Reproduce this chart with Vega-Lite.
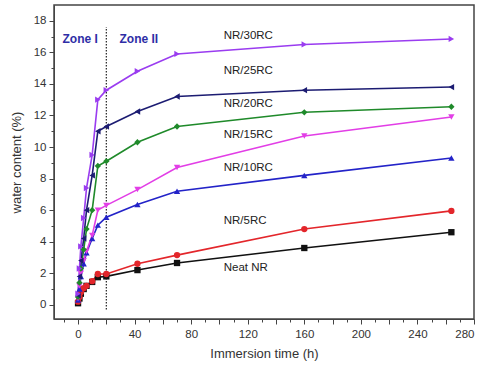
{
  "$schema": "https://vega.github.io/schema/vega-lite/v6.json",
  "width": 420,
  "height": 314,
  "autosize": "none",
  "padding": {"left": 54, "top": 5, "right": 26, "bottom": 59},
  "background": "white",
  "config": {
    "view": {"stroke": "#444", "strokeWidth": 1.5},
    "font": "Liberation Sans",
    "axis": {"grid": false, "labelFont": "Liberation Sans", "titleFont": "Liberation Sans", "labelColor": "#333", "titleColor": "#333", "domainColor": "#444", "tickColor": "#444", "labelFontSize": 11.5, "titleFontSize": 13, "titleFontWeight": "normal"}
  },
  "datasets": {
    "series": [
      {"s": "Neat NR", "t": 0, "w": 0.1}, {"s": "Neat NR", "t": 1, "w": 0.4}, {"s": "Neat NR", "t": 2, "w": 0.7}, {"s": "Neat NR", "t": 4, "w": 1.0}, {"s": "Neat NR", "t": 6, "w": 1.2}, {"s": "Neat NR", "t": 10, "w": 1.45}, {"s": "Neat NR", "t": 14, "w": 1.75}, {"s": "Neat NR", "t": 20, "w": 1.8}, {"s": "Neat NR", "t": 42, "w": 2.2}, {"s": "Neat NR", "t": 70, "w": 2.65}, {"s": "Neat NR", "t": 160, "w": 3.6}, {"s": "Neat NR", "t": 264, "w": 4.6},
      {"s": "NR/5RC", "t": 0, "w": 0.2}, {"s": "NR/5RC", "t": 1, "w": 0.5}, {"s": "NR/5RC", "t": 2, "w": 0.8}, {"s": "NR/5RC", "t": 4, "w": 1.05}, {"s": "NR/5RC", "t": 6, "w": 1.2}, {"s": "NR/5RC", "t": 10, "w": 1.5}, {"s": "NR/5RC", "t": 14, "w": 1.95}, {"s": "NR/5RC", "t": 20, "w": 1.95}, {"s": "NR/5RC", "t": 42, "w": 2.6}, {"s": "NR/5RC", "t": 70, "w": 3.15}, {"s": "NR/5RC", "t": 160, "w": 4.8}, {"s": "NR/5RC", "t": 264, "w": 5.95},
      {"s": "NR/10RC", "t": 0, "w": 0.3}, {"s": "NR/10RC", "t": 1, "w": 1.0}, {"s": "NR/10RC", "t": 2, "w": 1.8}, {"s": "NR/10RC", "t": 4, "w": 2.6}, {"s": "NR/10RC", "t": 6, "w": 3.3}, {"s": "NR/10RC", "t": 10, "w": 4.2}, {"s": "NR/10RC", "t": 14, "w": 5.05}, {"s": "NR/10RC", "t": 20, "w": 5.55}, {"s": "NR/10RC", "t": 42, "w": 6.35}, {"s": "NR/10RC", "t": 70, "w": 7.2}, {"s": "NR/10RC", "t": 160, "w": 8.2}, {"s": "NR/10RC", "t": 264, "w": 9.3},
      {"s": "NR/15RC", "t": 0, "w": 0.4}, {"s": "NR/15RC", "t": 1, "w": 1.2}, {"s": "NR/15RC", "t": 2, "w": 2.0}, {"s": "NR/15RC", "t": 4, "w": 2.8}, {"s": "NR/15RC", "t": 6, "w": 3.4}, {"s": "NR/15RC", "t": 10, "w": 4.4}, {"s": "NR/15RC", "t": 14, "w": 6.0}, {"s": "NR/15RC", "t": 20, "w": 6.3}, {"s": "NR/15RC", "t": 42, "w": 7.3}, {"s": "NR/15RC", "t": 70, "w": 8.7}, {"s": "NR/15RC", "t": 160, "w": 10.7}, {"s": "NR/15RC", "t": 264, "w": 11.9},
      {"s": "NR/20RC", "t": 0, "w": 0.5}, {"s": "NR/20RC", "t": 1, "w": 1.4}, {"s": "NR/20RC", "t": 2, "w": 2.3}, {"s": "NR/20RC", "t": 4, "w": 3.5}, {"s": "NR/20RC", "t": 6, "w": 4.8}, {"s": "NR/20RC", "t": 10, "w": 6.0}, {"s": "NR/20RC", "t": 14, "w": 8.8}, {"s": "NR/20RC", "t": 20, "w": 9.1}, {"s": "NR/20RC", "t": 42, "w": 10.3}, {"s": "NR/20RC", "t": 70, "w": 11.3}, {"s": "NR/20RC", "t": 160, "w": 12.2}, {"s": "NR/20RC", "t": 264, "w": 12.55},
      {"s": "NR/25RC", "t": 0, "w": 0.6}, {"s": "NR/25RC", "t": 1, "w": 1.8}, {"s": "NR/25RC", "t": 2, "w": 2.8}, {"s": "NR/25RC", "t": 4, "w": 4.2}, {"s": "NR/25RC", "t": 6, "w": 6.0}, {"s": "NR/25RC", "t": 10, "w": 8.2}, {"s": "NR/25RC", "t": 14, "w": 11.0}, {"s": "NR/25RC", "t": 20, "w": 11.3}, {"s": "NR/25RC", "t": 42, "w": 12.25}, {"s": "NR/25RC", "t": 70, "w": 13.2}, {"s": "NR/25RC", "t": 160, "w": 13.6}, {"s": "NR/25RC", "t": 264, "w": 13.8},
      {"s": "NR/30RC", "t": 0, "w": 0.7}, {"s": "NR/30RC", "t": 1, "w": 2.3}, {"s": "NR/30RC", "t": 2, "w": 3.7}, {"s": "NR/30RC", "t": 4, "w": 5.5}, {"s": "NR/30RC", "t": 6, "w": 7.4}, {"s": "NR/30RC", "t": 10, "w": 9.5}, {"s": "NR/30RC", "t": 14, "w": 13.0}, {"s": "NR/30RC", "t": 20, "w": 13.6}, {"s": "NR/30RC", "t": 42, "w": 14.8}, {"s": "NR/30RC", "t": 70, "w": 15.9}, {"s": "NR/30RC", "t": 160, "w": 16.5}, {"s": "NR/30RC", "t": 264, "w": 16.85}
    ],
    "labels": [
      {"label": "NR/30RC", "t": 103, "w": 17.05},
      {"label": "NR/25RC", "t": 103, "w": 14.8},
      {"label": "NR/20RC", "t": 103, "w": 12.75},
      {"label": "NR/15RC", "t": 103, "w": 10.75},
      {"label": "NR/10RC", "t": 103, "w": 8.65},
      {"label": "NR/5RC", "t": 103, "w": 5.3},
      {"label": "Neat NR", "t": 103, "w": 2.35}
    ],
    "zones": [
      {"label": "Zone I", "t": 1.5, "w": 16.85},
      {"label": "Zone II", "t": 43, "w": 16.85}
    ]
  },
  "resolve": {"axis": {"x": "independent", "y": "independent"}},
  "layer": [
    {
      "data": {"values": [{"t": 20, "y1": -0.3, "y2": 17.6}]},
      "mark": {"type": "rule", "strokeDash": [1.5, 1.5], "color": "#222", "strokeWidth": 1.2},
      "encoding": {
        "x": {"field": "t", "type": "quantitative", "scale": {"domain": [-17, 280], "nice": false, "zero": false}, "axis": {"orient": "bottom", "values": [-10, 10, 30, 50, 70, 90, 110, 130, 150, 170, 190, 210, 230, 250, 270], "labels": false, "tickSize": 3, "domain": false, "title": null}},
        "y": {"field": "y1", "type": "quantitative", "scale": {"domain": [-0.9, 19], "nice": false, "zero": false}, "axis": {"orient": "left", "values": [-1, 1, 3, 5, 7, 9, 11, 13, 15, 17], "labels": false, "tickSize": 3, "domain": false, "title": null}},
        "y2": {"field": "y2"}
      }
    },
    {
      "data": {"name": "series"},
      "mark": {"type": "line", "strokeWidth": 1.6},
      "encoding": {
        "x": {"field": "t", "type": "quantitative", "axis": {"orient": "bottom", "values": [0, 20, 40, 60, 80, 100, 120, 140, 160, 180, 200, 220, 240, 260, 280], "tickSize": 5, "labelPadding": 4, "title": "Immersion time (h)", "titlePadding": 8}},
        "y": {"field": "w", "type": "quantitative", "axis": {"orient": "left", "values": [0, 2, 4, 6, 8, 10, 12, 14, 16, 18], "tickSize": 5, "labelPadding": 3, "title": "water content (%)", "titlePadding": 10}},
        "color": {"field": "s", "type": "nominal", "legend": null, "scale": {"domain": ["Neat NR", "NR/5RC", "NR/10RC", "NR/15RC", "NR/20RC", "NR/25RC", "NR/30RC"], "range": ["#111111", "#e3262b", "#2323c8", "#e23ee6", "#1f8a2a", "#1c1c72", "#9a3cf0"]}},
        "detail": {"field": "s"}
      }
    },
    {
      "data": {"name": "series"},
      "mark": {"type": "point", "filled": true, "opacity": 1, "size": 40},
      "encoding": {
        "x": {"field": "t", "type": "quantitative", "axis": null},
        "y": {"field": "w", "type": "quantitative", "axis": null},
        "color": {"field": "s", "type": "nominal", "legend": null},
        "shape": {"field": "s", "type": "nominal", "legend": null, "scale": {"domain": ["Neat NR", "NR/5RC", "NR/10RC", "NR/15RC", "NR/20RC", "NR/25RC", "NR/30RC"], "range": ["square", "circle", "triangle-up", "triangle-down", "diamond", "triangle-left", "triangle-right"]}}
      }
    },
    {
      "data": {"name": "labels"},
      "mark": {"type": "text", "align": "left", "baseline": "middle", "fontSize": 11.5, "color": "#222", "font": "Liberation Sans"},
      "encoding": {
        "x": {"field": "t", "type": "quantitative", "axis": null},
        "y": {"field": "w", "type": "quantitative", "axis": null},
        "text": {"field": "label"}
      }
    },
    {
      "data": {"name": "zones"},
      "mark": {"type": "text", "align": "center", "baseline": "middle", "fontSize": 12, "fontWeight": "bold", "color": "#2e2ea6", "font": "Liberation Sans"},
      "encoding": {
        "x": {"field": "t", "type": "quantitative", "axis": null},
        "y": {"field": "w", "type": "quantitative", "axis": null},
        "text": {"field": "label"}
      }
    }
  ]
}
